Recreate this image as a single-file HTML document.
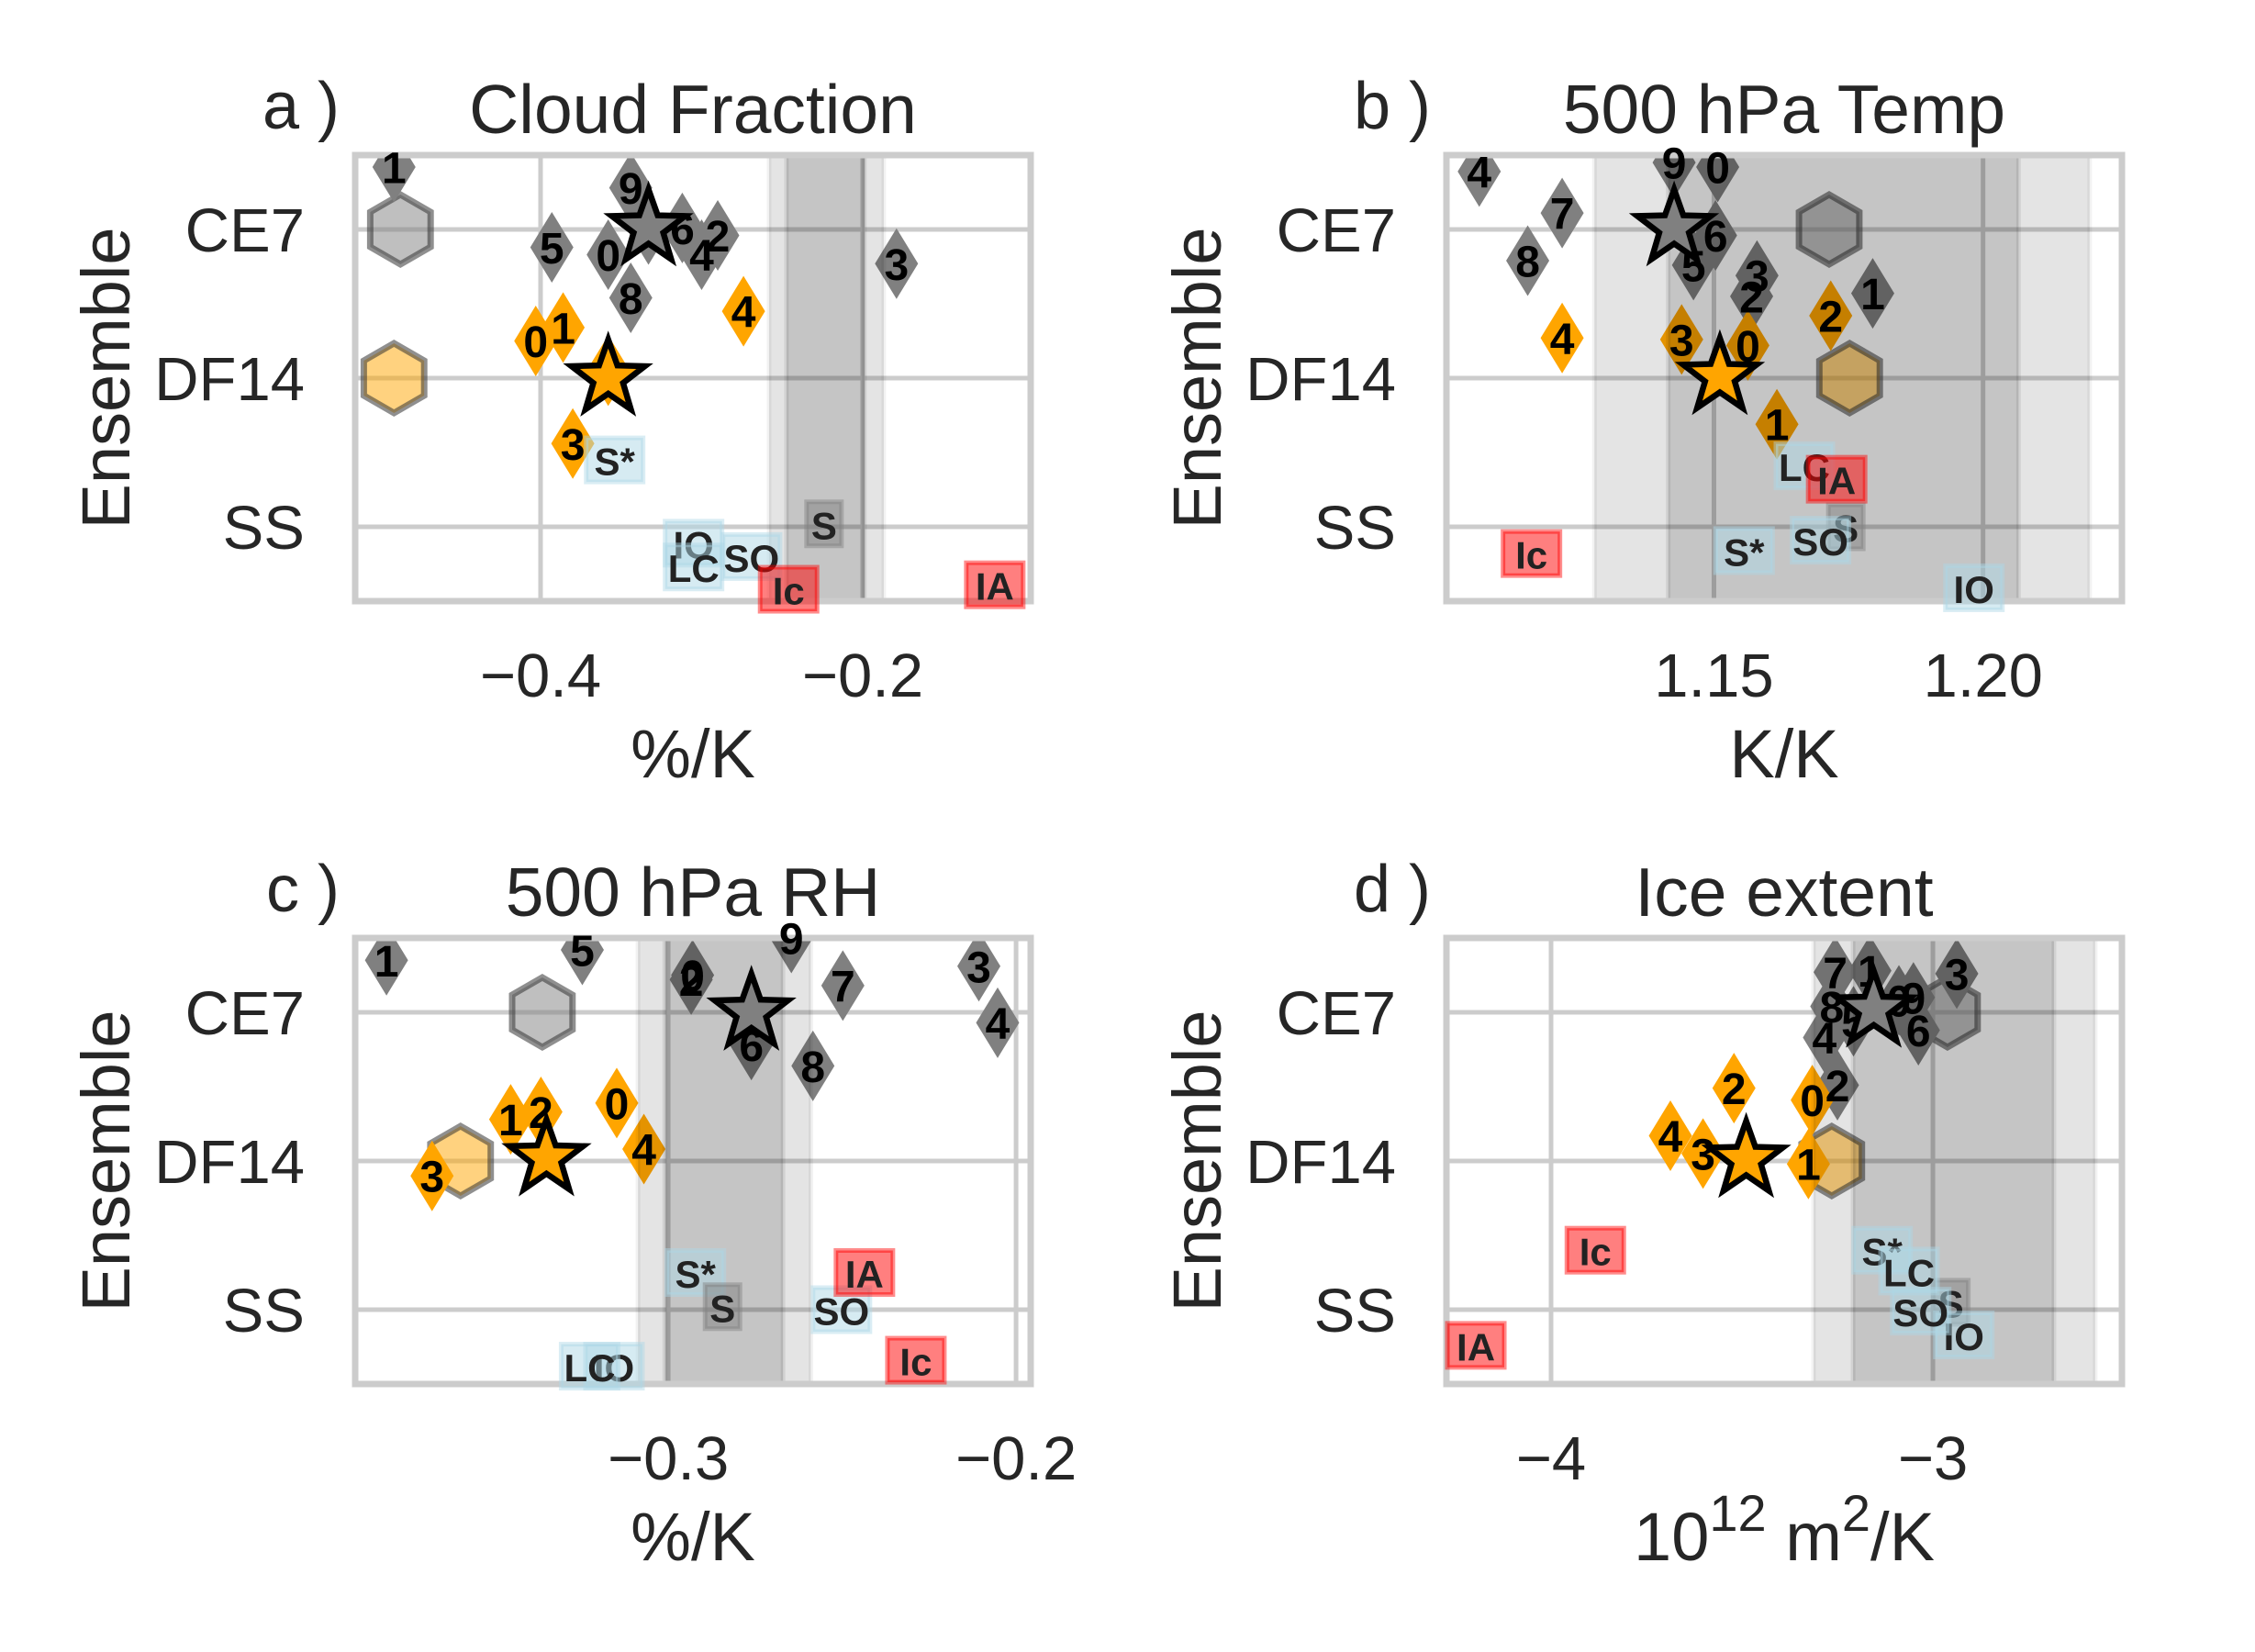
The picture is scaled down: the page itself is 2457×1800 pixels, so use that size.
<!DOCTYPE html>
<html><head><meta charset="utf-8">
<style>
html,body{margin:0;padding:0;background:#fff;}
svg{display:block;font-family:"Liberation Sans",Arial,sans-serif;}
</style></head>
<body>
<svg id="fig" width="2457" height="1800" viewBox="0 0 2457 1800" xmlns="http://www.w3.org/2000/svg"></svg>
<script>
// ---------- data ----------
const categories = ["SS","DF14","CE7"];
const ssLabels = ["S*","S","IO","LC","SO","Ic","IA"];
const ssKinds = ["blue","gray","blue","blue","blue","red","red"];

// Panel a: Cloud Fraction
const aCeX = [-0.358,-0.491,-0.290,-0.179,-0.300,-0.393,-0.312,-0.333,-0.344,-0.344];
const aCeY = [1.83,2.42,1.96,1.77,1.83,1.88,2.01,2.0,1.54,2.28];
const aDfX = [-0.403,-0.386,-0.358,-0.380,-0.274];
const aDfY = [1.25,1.34,1.05,0.56,1.45];
const aStarX = [-0.333,-0.358]; const aStarY = [2.01,1.0];
const aHexX = [-0.487,-0.491]; const aHexY = [2.0,1.0];
const aSsX = [-0.354,-0.224,-0.305,-0.305,-0.269,-0.246,-0.118];
const aSsY = [0.45,0.02,-0.11,-0.27,-0.20,-0.42,-0.39];
const aBand = [-0.2581,-0.1869,-0.2473,-0.1989];
const aTicks = [-0.4,-0.2]; const aTickLabels = ["\u22120.4","\u22120.2"];

// Panel b: 500 hPa Temp
const bCeX = [1.1507,1.1795,1.157,1.158,1.1064,1.1462,1.1503,1.1218,1.1154,1.1426];
const bCeY = [2.42,1.57,1.55,1.69,2.39,1.76,1.96,2.11,1.79,2.45];
const bDfX = [1.1563,1.1617,1.1717,1.144,1.1218];
const bDfY = [1.22,0.69,1.42,1.26,1.27];
const bStarX = [1.1426,1.1511]; const bStarY = [2.01,1.01];
const bHexX = [1.1714,1.1752]; const bHexY = [2.0,1.0];
const bSsX = [1.1556,1.1745,1.1983,1.1668,1.1698,1.1161,1.1728];
const bSsY = [-0.16,0.0,-0.41,0.41,-0.09,-0.18,0.32];
const bBand = [1.1278,1.2198,1.1415,1.2066];
const bTicks = [1.15,1.20]; const bTickLabels = ["1.15","1.20"];

// Panel c: 500 hPa RH
const cCeX = [-0.2930,-0.381,-0.2934,-0.2107,-0.2053,-0.3247,-0.2761,-0.2498,-0.2584,-0.2646];
const cCeY = [2.25,2.35,2.22,2.31,1.93,2.42,1.78,2.18,1.64,2.50];
const cDfX = [-0.3148,-0.3453,-0.3366,-0.3679,-0.307];
const cDfY = [1.39,1.28,1.33,0.90,1.08];
const cStarX = [-0.2761,-0.335]; const cStarY = [2.0,1.02];
const cHexX = [-0.3362,-0.3597]; const cHexY = [2.0,1.0];
const cSsX = [-0.2922,-0.2844,-0.3156,-0.3226,-0.2502,-0.2288,-0.2436];
const cSsY = [0.25,0.02,-0.38,-0.38,0.0,-0.34,0.25];
const cBand = [-0.3087,-0.259,-0.301,-0.267];
const cTicks = [-0.3,-0.2]; const cTickLabels = ["\u22120.3","\u22120.2"];

// Panel d: Ice extent
const dCeX = [-3.089,-3.165,-3.25,-2.9375,-3.284,-3.208,-3.038,-3.256,-3.265,-3.051];
const dCeY = [2.08,2.28,1.51,2.26,1.83,1.94,1.88,2.27,2.04,2.10];
const dDfX = [-3.316,-3.326,-3.521,-3.602,-3.6875];
const dDfY = [1.41,0.98,1.49,1.05,1.17];
const dStarX = [-3.155,-3.489]; const dStarY = [2.02,1.01];
const dHexX = [-2.962,-3.265]; const dHexY = [2.0,1.0];
const dSsX = [-3.133,-2.953,-2.919,-3.0625,-3.032,-3.884,-4.197];
const dSsY = [0.40,0.05,-0.17,0.26,-0.01,0.40,-0.24];
const dBand = [-3.3125,-2.575,-3.209,-2.683];
const dTicks = [-4,-3]; const dTickLabels = ["\u22124","\u22123"];

// ---------- drawing ----------
const NS = "http://www.w3.org/2000/svg";
const svg = document.getElementById("fig");
function el(tag, attrs, parent){
  const e = document.createElementNS(NS, tag);
  for (const k in attrs) e.setAttribute(k, attrs[k]);
  (parent||svg).appendChild(e);
  return e;
}
const W = 736, H = 486;

function panel(p){
  const g = el("g", {});
  
  
  const L = p.left, T = p.top;
  const sx = v => L + (v - p.xlim[0]) / (p.xlim[1] - p.xlim[0]) * W;
  const sy = v => T + (2.5 - v) / 3 * H;
  const clipId = "clip-" + p.id;
  const cp = el("clipPath", {id: clipId}, g);
  el("rect", {x: L, y: T, width: W, height: H}, cp);

  // gridlines
  const grid = el("g", {stroke: "#cccccc", "stroke-width": 5}, g);
  
  
  for (let i = 0; i < categories.length; i++) el("line", {x1: L, x2: L + W, y1: sy(i), y2: sy(i)}, grid);
  p.ticks.forEach(t => el("line", {x1: sx(t), x2: sx(t), y1: T, y2: T + H}, grid));

  const mk = el("g", {"clip-path": "url(#" + clipId + ")"}, g);
  // hexagons
  const hexCol = ["#808080", "#ffa500"];
  for (let i = 0; i < p.hexX.length; i++){
    const cx = sx(p.hexX[i]), cy = sy(p.hexY[i]), r = 38;
    let pts = [];
    for (let k = 0; k < 6; k++){ const a = Math.PI/2 + k*Math.PI/3; pts.push((cx + r*Math.cos(a)).toFixed(1) + "," + (cy - r*Math.sin(a)).toFixed(1)); }
    const h = el("polygon", {points: pts.join(" "), fill: hexCol[i], "fill-opacity": 0.5, stroke: "#333", "stroke-opacity": 0.55, "stroke-width": 7}, mk);
    
    
  }
  // diamonds
  function diamonds(xs, ys, col, name){
    for (let i = 0; i < xs.length; i++){
      const cx = sx(xs[i]), cy = sy(ys[i]);
      const d = el("polygon", {points: `${cx},${cy-38.5} ${cx+23.5},${cy} ${cx},${cy+38.5} ${cx-23.5},${cy}`, fill: col}, mk);
      
      
    }
  }
  diamonds(p.ceX, p.ceY, "#808080", "ce7");
  diamonds(p.dfX, p.dfY, "#ffa500", "df14");

  // shaded bands
  const bands = el("g", {}, g);
  
  
  el("rect", {x: sx(p.band[0]), y: T, width: sx(p.band[1]) - sx(p.band[0]), height: H, fill: "#000", "fill-opacity": 0.105}, bands);
  el("rect", {x: sx(p.band[2]), y: T, width: sx(p.band[3]) - sx(p.band[2]), height: H, fill: "#000", "fill-opacity": 0.135}, bands);
  [p.band[0], p.band[1]].forEach(v => el("line", {x1: sx(v), x2: sx(v), y1: T, y2: T + H, stroke: "#000", "stroke-opacity": 0.05, "stroke-width": 5}, bands));
  [p.band[2], p.band[3]].forEach(v => el("line", {x1: sx(v), x2: sx(v), y1: T, y2: T + H, stroke: "#000", "stroke-opacity": 0.08, "stroke-width": 5}, bands));

  // frame (drawn before labels so labels overlap it)
  const fr = el("rect", {x: L, y: T, width: W, height: H, fill: "none", stroke: "#cccccc", "stroke-width": 7}, g);
  
  

  // digit labels
  function digits(xs, ys, name){
    for (let i = 0; i < xs.length; i++){
      const t = el("text", {x: sx(xs[i]), y: sy(ys[i]) + 2, "text-anchor": "middle", "dominant-baseline": "central", "font-size": 48, "font-weight": "bold", fill: "#000"}, g);
      t.textContent = String(i);
      
      
    }
  }
  digits(p.ceX, p.ceY, "ce7");
  digits(p.dfX, p.dfY, "df14");

  // stars
  const starCol = ["#808080", "#ffa500"];
  for (let i = 0; i < p.starX.length; i++){
    const cx = sx(p.starX[i]), cy = sy(p.starY[i]); let pts = [];
    for (let k = 0; k < 10; k++){ const r = k % 2 ? 17 : 42; const a = Math.PI/2 + k*Math.PI/5; pts.push((cx + r*Math.cos(a)).toFixed(1) + "," + (cy - r*Math.sin(a)).toFixed(1)); }
    const s = el("polygon", {points: pts.join(" "), fill: starCol[i], stroke: "#000", "stroke-width": 6.5, "stroke-linejoin": "miter"}, g);
    
    
  }

  // SS box labels
  const boxFill = {blue: "#add8e6", gray: "#808080", red: "#ff0000"};
  for (let i = 0; i < ssLabels.length; i++){
    const cx = sx(p.ssX[i]), cy = sy(p.ssY[i]);
    const lg = el("g", {}, g);
    
    
    const tw = ssLabels[i].length === 1 ? 26 : 50;
    el("rect", {x: cx - tw/2 - 6, y: cy - 24, width: tw + 12, height: 48, fill: boxFill[ssKinds[i]], "fill-opacity": 0.5, stroke: boxFill[ssKinds[i]], "stroke-opacity": 0.45, "stroke-width": 5}, lg);
    const t = el("text", {x: cx, y: cy + 2, "text-anchor": "middle", "dominant-baseline": "central", "font-size": 42, "font-weight": "bold", fill: "#222"}, lg);
    t.textContent = ssLabels[i];
  }

  // y tick labels
  for (let i = 0; i < categories.length; i++){
    const t = el("text", {x: L - 55, y: sy(i) + 24, "text-anchor": "end", "font-size": 67, fill: "#262626"}, g);
    t.textContent = categories[i];
    
    
  }
  // x tick labels
  p.ticks.forEach((v, i) => {
    const t = el("text", {x: sx(v), y: T + H + 104, "text-anchor": "middle", "font-size": 67, fill: "#262626"}, g);
    t.textContent = p.tickLabels[i];
    
    
  });
  // ylabel
  const yl = el("text", {x: 0, y: 0, "text-anchor": "middle", "font-size": 74, fill: "#262626", transform: `translate(${L - 246},${T + H/2}) rotate(-90)`}, g);
  yl.textContent = "Ensemble";
  
  
  // xlabel
  const xl = el("text", {x: L + W/2, y: T + H + 192, "text-anchor": "middle", "font-size": 74, fill: "#262626"}, g);
  
  
  if (p.xlabelSup){
    xl.appendChild(document.createTextNode("10"));
    const s1 = el("tspan", {"font-size": 56, dy: -32}, xl); s1.textContent = "12";
    const s2 = el("tspan", {dy: 32}, xl); s2.textContent = " m";
    const s3 = el("tspan", {"font-size": 56, dy: -32}, xl); s3.textContent = "2";
    const s4 = el("tspan", {dy: 32}, xl); s4.textContent = "/K";
  } else xl.textContent = p.xlabel;
  // title
  const tt = el("text", {x: L + W/2, y: T - 24, "text-anchor": "middle", "font-size": 75, fill: "#262626"}, g);
  tt.textContent = p.title;
  
  
  const pl = el("text", {x: L - 17, y: T - 29, "text-anchor": "end", "font-size": 72, fill: "#262626"}, g);
  pl.textContent = p.letter;
  
  
}

panel({id: "a", left: 387, top: 169, xlim: [-0.5151, -0.0957], ticks: aTicks, tickLabels: aTickLabels,
  ceX: aCeX, ceY: aCeY, dfX: aDfX, dfY: aDfY, starX: aStarX, starY: aStarY, hexX: aHexX, hexY: aHexY,
  ssX: aSsX, ssY: aSsY, band: aBand, title: "Cloud Fraction", letter: "a )", xlabel: "%/K"});
panel({id: "b", left: 1576, top: 169, xlim: [1.1003, 1.2258], ticks: bTicks, tickLabels: bTickLabels,
  ceX: bCeX, ceY: bCeY, dfX: bDfX, dfY: bDfY, starX: bStarX, starY: bStarY, hexX: bHexX, hexY: bHexY,
  ssX: bSsX, ssY: bSsY, band: bBand, title: "500 hPa Temp", letter: "b )", xlabel: "K/K"});
panel({id: "c", left: 387, top: 1022, xlim: [-0.39, -0.1958], ticks: cTicks, tickLabels: cTickLabels,
  ceX: cCeX, ceY: cCeY, dfX: cDfX, dfY: cDfY, starX: cStarX, starY: cStarY, hexX: cHexX, hexY: cHexY,
  ssX: cSsX, ssY: cSsY, band: cBand, title: "500 hPa RH", letter: "c )", xlabel: "%/K"});
panel({id: "d", left: 1576, top: 1022, xlim: [-4.274, -2.505], ticks: dTicks, tickLabels: dTickLabels,
  ceX: dCeX, ceY: dCeY, dfX: dDfX, dfY: dDfY, starX: dStarX, starY: dStarY, hexX: dHexX, hexY: dHexY,
  ssX: dSsX, ssY: dSsY, band: dBand, title: "Ice extent", letter: "d )", xlabelSup: true});
</script>
</body></html>
